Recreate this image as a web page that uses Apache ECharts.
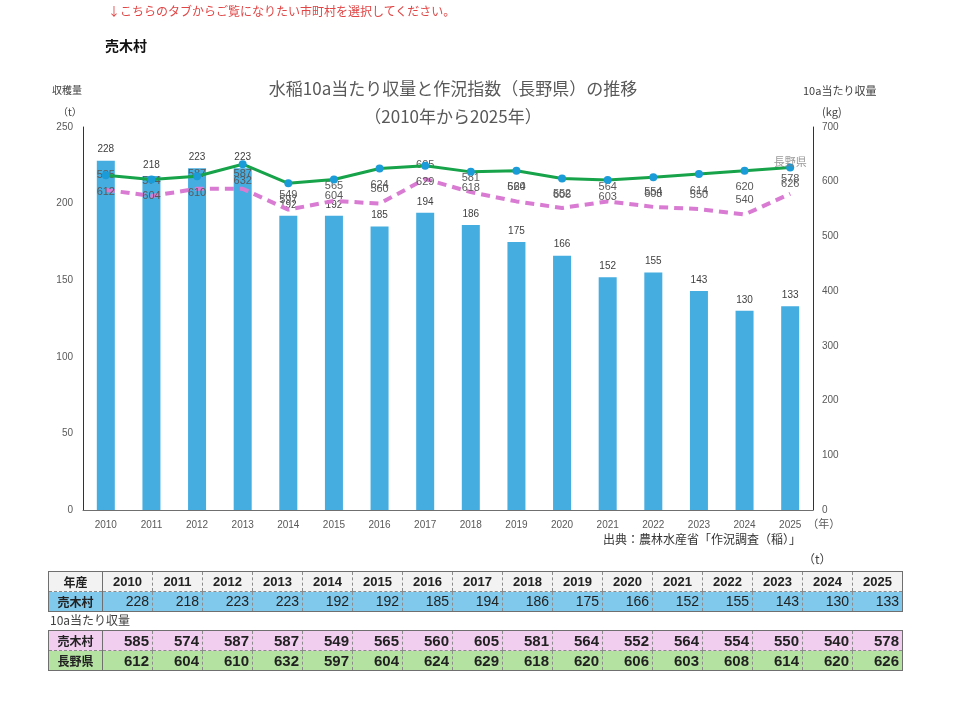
<!DOCTYPE html>
<html lang="ja">
<head>
<meta charset="utf-8">
<title>売木村 水稲収量</title>
<script src="https://cdn.jsdelivr.net/npm/echarts@6/dist/echarts.min.js"></script>
<style>
  html, body { margin: 0; padding: 0; background: #fff; }
  body { width: 960px; height: 701px; position: relative; overflow: hidden;
         font-family: "Noto Sans CJK JP", "Noto Sans", sans-serif; }
  #chart { position: absolute; left: 0; top: 0; width: 960px; height: 701px; }
  .txt { position: absolute; white-space: nowrap; line-height: 1; }
  #notice { left: 108px; top: 5px; font-size: 12px; color: #e04646; }
  #town { left: 105px; top: 38px; font-size: 14px; font-weight: bold; color: #111; }
  #unit { left: 803px; top: 553px; font-size: 12px; color: #404040; }
  #subhead { left: 50px; top: 614px; font-size: 12px; color: #404040; }
  table { position: absolute; left: 48px; border-collapse: collapse; table-layout: fixed;
          border: 1px solid #6f6f6f; }
  td, th { height: 19px; padding: 0 3px 0 0; border-left: 1px dashed #8a8a8a;
           font-family: "Liberation Sans Narrow", "Liberation Sans", sans-serif; line-height: 19px; }
  #t1 .name, #t2 .name { width: 50px; border-left: none; border-right: 1px solid #6f6f6f; text-align: center;
                     padding: 0; font-family: "Noto Sans CJK JP", sans-serif; font-size: 12px; font-weight: bold; color: #222; }
  #t1 { top: 571px; }
  #t1 thead tr { background: #f2f2f2; }
  #t1 thead th { font-size: 13px; font-weight: bold; text-align: center; color: #222; padding: 0;
                 border-bottom: 1px dashed #8a8a8a; }
  #t1 tbody tr { background: #80c9ec; }
  #t1 tbody td { font-size: 14px; text-align: right; color: #222; }
  #t2 { top: 630px; }
  #t2 td { font-size: 15px; font-weight: bold; text-align: right; color: #222; }
  #t2 tr.uriki { background: #f1cdf0; }
  #t2 tr.nagano { background: #b3e2a1; }
  #t2 tr.uriki td { border-bottom: 1px dashed #8a8a8a; }
  col.v { width: 50px; }
</style>
</head>
<body>
<div id="chart"></div>
<div class="txt" id="notice">↓こちらのタブからご覧になりたい市町村を選択してください。</div>
<div class="txt" id="town">売木村</div>
<div class="txt" id="unit">（t）</div>
<div class="txt" id="subhead">10a当たり収量</div>
<table id="t1"></table>
<table id="t2"></table>
<script>
const YEARS = ["2010", "2011", "2012", "2013", "2014", "2015", "2016", "2017",
               "2018", "2019", "2020", "2021", "2022", "2023", "2024", "2025"];
// 収穫量 (t), 売木村
const HARVEST = [228, 218, 223, 223, 192, 192, 185, 194, 186, 175, 166, 152, 155, 143, 130, 133];
// 10a当たり収量 (kg)
const URIKI_YIELD = [585, 574, 587, 587, 549, 565, 560, 605, 581, 564, 552, 564, 554, 550, 540, 578];
const NAGANO_YIELD = [612, 604, 610, 632, 597, 604, 624, 629, 618, 620, 606, 603, 608, 614, 620, 626];

const TOWN = "売木村";
const PREF = "長野県";

const GRAY = "#595959";
const FONT = "Noto Sans CJK JP";

// tables under the chart, built from the same arrays
function cols(table) {
  const cg = document.createElement("colgroup");
  const c0 = document.createElement("col");
  c0.style.width = "54px";
  cg.appendChild(c0);
  for (let i = 0; i < YEARS.length; i++) {
    const c = document.createElement("col");
    c.className = "v";
    cg.appendChild(c);
  }
  table.appendChild(cg);
}

function row(label, values, cls) {
  const tr = document.createElement("tr");
  if (cls) tr.className = cls;
  const th = document.createElement("td");
  th.className = "name";
  th.textContent = label;
  tr.appendChild(th);
  for (const v of values) {
    const td = document.createElement("td");
    td.textContent = v;
    tr.appendChild(td);
  }
  return tr;
}

const t1 = document.getElementById("t1");
cols(t1);
const thead = document.createElement("thead");
const hr = document.createElement("tr");
const h0 = document.createElement("th");
h0.className = "name";
h0.textContent = "年産";
hr.appendChild(h0);
for (const y of YEARS) {
  const th = document.createElement("th");
  th.textContent = y;
  hr.appendChild(th);
}
thead.appendChild(hr);
t1.appendChild(thead);
const tb1 = document.createElement("tbody");
tb1.appendChild(row(TOWN, HARVEST));
t1.appendChild(tb1);

const t2 = document.getElementById("t2");
cols(t2);
const tb2 = document.createElement("tbody");
tb2.appendChild(row(TOWN, URIKI_YIELD, "uriki"));
tb2.appendChild(row(PREF, NAGANO_YIELD, "nagano"));
t2.appendChild(tb2);

// chart
const chart = echarts.init(document.getElementById("chart"));
const last = YEARS.length - 1;

chart.setOption({
  animation: false,
  textStyle: { fontFamily: FONT },
  title: {
    text: "水稲10a当たり収量と作況指数（長野県）の推移\n（2010年から2025年）",
    left: 448,
    top: 70,
    textAlign: "center",
    textStyle: { fontFamily: FONT, fontSize: 17, fontWeight: "normal", color: GRAY, lineHeight: 28 },
  },
  grid: { left: 83, right: 147, top: 127, bottom: 191 },
  xAxis: {
    type: "category",
    data: YEARS,
    name: "（年）",
    nameLocation: "end",
    nameGap: -6,
    nameTextStyle: { color: GRAY, fontSize: 11, verticalAlign: "top", padding: [8, 0, 0, 0] },
    axisLine: { lineStyle: { color: "#6f6f6f", width: 1 } },
    axisTick: { show: false },
    axisLabel: { color: GRAY, fontSize: 10, margin: 10, fontFamily: "Liberation Sans" },
  },
  yAxis: [
    {
      type: "value",
      min: 0, max: 250, interval: 50,
      axisLine: { show: true, lineStyle: { color: "#333", width: 1 } },
      axisTick: { show: false },
      splitLine: { show: false },
      axisLabel: { color: GRAY, fontSize: 10, margin: 10, fontFamily: "Liberation Sans" },
    },
    {
      type: "value",
      position: "right",
      min: 0, max: 700, interval: 100,
      axisLine: { show: true, lineStyle: { color: "#333", width: 1 } },
      axisTick: { show: false },
      splitLine: { show: false },
      axisLabel: { color: GRAY, fontSize: 10, margin: 9, fontFamily: "Liberation Sans" },
    },
  ],
  graphic: [
    { type: "text", left: 52, top: 85, style: { text: "収穫量", fontSize: 10, fill: "#404040", fontFamily: FONT } },
    { type: "text", left: 58, top: 107, style: { text: "（t）", fontSize: 10, fill: "#404040", fontFamily: FONT } },
    { type: "text", left: 803, top: 85, style: { text: "10a当たり収量", fontSize: 11, fill: "#404040", fontFamily: FONT } },
    { type: "text", left: 822, top: 106, style: { text: "(kg)", fontSize: 11, fill: "#404040", fontFamily: FONT } },
    { type: "text", left: 603, top: 533, style: { text: "出典：農林水産省「作況調査（稲）」", fontSize: 12, fill: "#333", fontFamily: FONT } },
  ],
  series: [
    {
      name: TOWN + " 収穫量",
      type: "bar",
      data: HARVEST,
      barWidth: 18,
      itemStyle: { color: "#45ade0" },
      label: { show: true, position: "top", distance: 6, color: "#404040", fontSize: 10, fontFamily: "Liberation Sans" },
    },
    {
      name: TOWN,
      type: "line",
      yAxisIndex: 1,
      data: URIKI_YIELD,
      symbol: "circle",
      symbolSize: 0,
      showSymbol: true,
      lineStyle: { color: "#d97bd2", width: 4, type: [9, 6] },
      itemStyle: { color: "#d97bd2" },
      label: { show: true, position: "top", distance: 9, color: GRAY, fontSize: 11, fontFamily: "Liberation Sans" },
      z: 3,
    },
    {
      name: PREF,
      type: "line",
      yAxisIndex: 1,
      data: NAGANO_YIELD,
      symbol: "circle",
      symbolSize: 8,
      lineStyle: { color: "#17a349", width: 3 },
      itemStyle: { color: "#1b9bd7", borderWidth: 0 },
      label: { show: true, position: "bottom", distance: 7, color: GRAY, fontSize: 11, fontFamily: "Liberation Sans" },
      z: 4,
    },
    {
      // series name tag at the end of the prefecture line
      name: PREF + " label",
      type: "scatter",
      yAxisIndex: 1,
      data: [[YEARS[last], NAGANO_YIELD[last]]],
      symbolSize: 0,
      label: { show: true, position: "top", distance: 0, formatter: PREF, color: "#7f7f7f", fontSize: 11, fontFamily: FONT },
      z: 5,
    },
  ],
});
</script>
</body>
</html>
